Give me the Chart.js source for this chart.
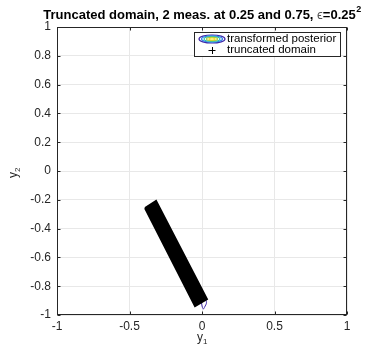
<!DOCTYPE html>
<html>
<head>
<meta charset="utf-8">
<script src="https://cdn.jsdelivr.net/npm/chart.js@4"></script>
<style>
html,body{margin:0;padding:0;background:#fff;}
#wrap{width:367px;height:347px;}
</style>
</head>
<body>
<div id="wrap"><canvas id="c" width="367" height="347"></canvas></div>
<script>
// ---- data ----
const titleMain = "Truncated domain, 2 meas. at 0.25 and 0.75, ";
const titleEps = "\u03F5";
const titleTail = "=0.25";
const titleSup = "2";
const xLabel = "y";
const xLabelSub = "1";
const yLabel = "y";
const yLabelSub = "2";
const seriesNames = ["transformed posterior", "truncated domain"];
// truncated domain (outline of the dense band of '+' markers)
const domainX = [-0.393, -0.317, 0.034, -0.048, -0.393];
const domainY = [-0.257, -0.208, -0.889, -0.9375, -0.257];
// visible part of the posterior contour
const postX = [-0.012, 0.020, 0.031, 0.018, 0.010, 0.002, -0.004, -0.012];
const postY = [-0.880, -0.885, -0.915, -0.945, -0.958, -0.945, -0.915, -0.880];

const INK = '#262626';
const FONT = '"Liberation Sans", Helvetica, Arial, sans-serif';
const fmt = v => String(Math.round(v * 100) / 100);

const deco = {
  id: 'deco',
  afterDraw(chart) {
    const {ctx, chartArea: a, scales: {x, y}} = chart;
    ctx.save();
    const L = Math.round(a.left) + 0.5, R = Math.round(a.right) - 0.5;
    const T = Math.round(a.top) + 0.5, B = Math.round(a.bottom) - 0.5;
    ctx.strokeStyle = INK; ctx.lineWidth = 1;
    // inward ticks
    ctx.beginPath();
    x.ticks.forEach(t => {
      const px = Math.round(x.getPixelForValue(t.value)) + 0.5;
      ctx.moveTo(px, B); ctx.lineTo(px, B - 3);
      ctx.moveTo(px, T); ctx.lineTo(px, T + 3);
    });
    y.ticks.forEach(t => {
      const py = Math.round(y.getPixelForValue(t.value)) + 0.5;
      ctx.moveTo(L, py); ctx.lineTo(L + 3, py);
      ctx.moveTo(R, py); ctx.lineTo(R - 3, py);
    });
    ctx.stroke();
    // box
    ctx.strokeRect(L, T, R - L, B - T);

    // title
    ctx.fillStyle = '#000';
    ctx.textBaseline = 'alphabetic';
    const fb = 'bold 13px ' + FONT, fn = '13px ' + FONT, fs = 'bold 9px ' + FONT;
    ctx.font = fb; const w1 = ctx.measureText(titleMain).width;
    ctx.font = fn; const w2 = ctx.measureText(titleEps).width;
    ctx.font = fb; const w3 = ctx.measureText(titleTail).width;
    ctx.font = fs; const w4 = ctx.measureText(titleSup).width;
    const cx = (a.left + a.right) / 2;
    let tx = cx - (w1 + w2 + w3 + w4) / 2;
    const ty = 19;
    ctx.textAlign = 'left';
    ctx.font = fb; ctx.fillText(titleMain, tx, ty); tx += w1;
    ctx.fillStyle = '#555'; ctx.font = fn; ctx.fillText(titleEps, tx, ty); tx += w2;
    ctx.fillStyle = '#000'; ctx.font = fb; ctx.fillText(titleTail, tx, ty); tx += w3;
    ctx.font = fs; ctx.fillText(titleSup, tx + 0.5, ty - 7);

    // axis labels
    ctx.fillStyle = INK;
    ctx.font = '12px ' + FONT;
    const xm = ctx.measureText(xLabel).width;
    ctx.fillText(xLabel, cx - 5, 341);
    ctx.font = '8px ' + FONT;
    ctx.fillText(xLabelSub, cx - 5 + xm, 344);
    ctx.save();
    ctx.translate(17, 178);
    ctx.rotate(-Math.PI / 2);
    ctx.font = '12px ' + FONT;
    ctx.fillText(yLabel, 0, 0);
    ctx.font = '8px ' + FONT;
    ctx.fillText(yLabelSub, xm, 3);
    ctx.restore();

    // legend
    const bx = 194.5, by = 32.5, bw = 146, bh = 24;
    ctx.fillStyle = '#fff';
    ctx.fillRect(bx, by, bw, bh);
    ctx.strokeStyle = INK;
    ctx.strokeRect(bx, by, bw, bh);
    const icx = 212, r1y = 39, r2y = 50;
    const rings = [[13, 4, '#3e26a8'], [10.5, 3.2, '#2c7fe8'], [8, 2.4, '#30bcae'], [5.5, 1.6, '#a6cc3a'], [3, 1, '#f5e12a']];
    rings.forEach(([rx, ry, c]) => {
      ctx.beginPath(); ctx.ellipse(icx, r1y, rx, ry, 0, 0, Math.PI * 2);
      ctx.strokeStyle = c; ctx.lineWidth = 1.2; ctx.stroke();
    });
    ctx.strokeStyle = '#000'; ctx.lineWidth = 1;
    ctx.beginPath();
    ctx.moveTo(icx - 3.5, r2y + 0.5); ctx.lineTo(icx + 3.5, r2y + 0.5);
    ctx.moveTo(icx + 0.5, r2y - 3); ctx.lineTo(icx + 0.5, r2y + 4);
    ctx.stroke();
    ctx.fillStyle = '#000';
    ctx.font = '11.5px ' + FONT;
    ctx.textBaseline = 'middle';
    ctx.fillText(seriesNames[0], 227, r1y);
    ctx.fillText(seriesNames[1], 227, r2y);
    ctx.restore();
  }
};

new Chart(document.getElementById('c'), {
  type: 'scatter',
  data: {
    datasets: [
      {
        label: seriesNames[1],
        data: domainX.map((v, i) => ({x: v, y: domainY[i]})),
        showLine: true,
        borderColor: '#000',
        backgroundColor: '#000',
        borderWidth: 2,
        fill: 'shape',
        pointRadius: 0,
        order: 0
      },
      {
        label: seriesNames[0],
        data: postX.map((v, i) => ({x: v, y: postY[i]})),
        showLine: true,
        borderColor: '#3e26a8',
        borderWidth: 1,
        fill: false,
        pointRadius: 0,
        tension: 0.3,
        order: 1
      }
    ]
  },
  options: {
    responsive: false,
    animation: false,
    devicePixelRatio: 1,
    layout: {padding: {top: 27, right: 20, left: 0, bottom: 0}},
    plugins: {legend: {display: false}, title: {display: false}, tooltip: {enabled: false}},
    scales: {
      x: {
        type: 'linear', min: -1, max: 1,
        afterFit(s) { s.height = 32; },
        border: {display: false},
        grid: {color: '#e8e8e8', drawTicks: false},
        ticks: {stepSize: 0.5, padding: 4, color: INK, font: {family: FONT, size: 12}, maxRotation: 0, callback: fmt}
      },
      y: {
        type: 'linear', min: -1, max: 1,
        afterFit(s) { s.width = 57; },
        border: {display: false},
        grid: {color: '#e8e8e8', drawTicks: false},
        ticks: {stepSize: 0.2, padding: 6, color: INK, font: {family: FONT, size: 12}, callback: fmt}
      }
    }
  },
  plugins: [deco]
});
</script>
</body>
</html>
